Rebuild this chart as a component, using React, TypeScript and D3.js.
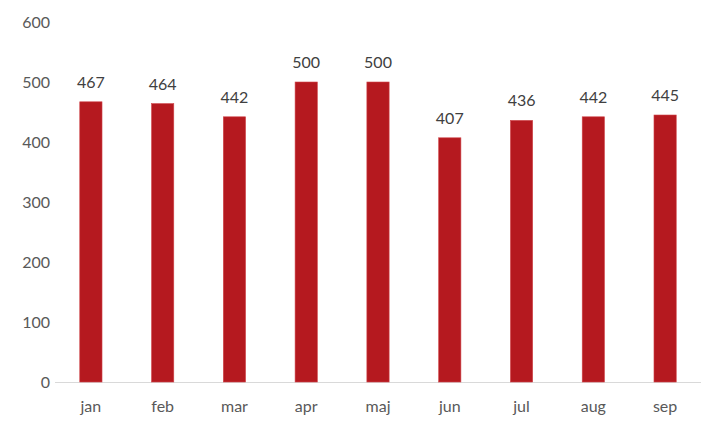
import React from "react";
import * as d3 from "d3";

const categories = ["jan", "feb", "mar", "apr", "maj", "jun", "jul", "aug", "sep"];
const values = [467, 464, 442, 500, 500, 407, 436, 442, 445];
const yTicks = [0, 100, 200, 300, 400, 500, 600];

export default function App() {
  const W = 710, H = 423;
  const left = 55, right = 701, top = 22, bottom = 382;
  const x = d3.scaleBand<string>().domain(categories).range([left, right]).paddingInner(0.69).paddingOuter(0.345);
  const y = d3.scaleLinear().domain([0, 600]).range([bottom, top]);
  const font = "Lato, 'Open Sans', sans-serif";
  return (
    <svg width={W} height={H} style={{ position: "absolute", left: 0, top: 0, background: "#fff" }}>
      <line x1={left} x2={right} y1={bottom + 0.5} y2={bottom + 0.5} stroke="#d9d9d9" strokeWidth={1} />
      {yTicks.map((t) => (
        <text key={t} x={50} y={y(t)} dy="0.35em" textAnchor="end" fontFamily={font} fontSize={16} fill="#595959">{t}</text>
      ))}
      {categories.map((c, i) => (
        <g key={c}>
          <rect x={x(c)!} y={y(values[i])} width={x.bandwidth()} height={bottom - y(values[i])} fill="#B5191F" stroke="#d0454a" strokeWidth={0.6} />
          <text x={x(c)! + x.bandwidth() / 2} y={y(values[i]) - 14} textAnchor="middle" fontFamily={font} fontSize={16} fill="#404040">{values[i]}</text>
          <text x={x(c)! + x.bandwidth() / 2} y={412} textAnchor="middle" fontFamily={font} fontSize={16} fill="#595959">{c}</text>
        </g>
      ))}
    </svg>
  );
}
